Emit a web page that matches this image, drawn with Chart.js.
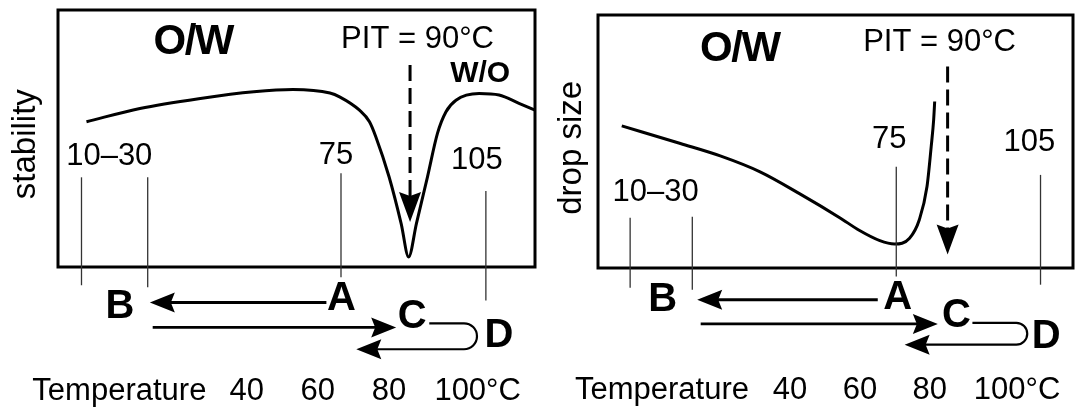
<!DOCTYPE html>
<html>
<head>
<meta charset="utf-8">
<script src="https://cdn.jsdelivr.net/npm/chart.js@4"></script>
<style>
    body { margin: 0; background: #fff; }
    #wrap { position: relative; width: 1075px; height: 410px; }
    .panel { position: absolute; top: 0; height: 410px; }
</style>
</head>
<body>
<div id="wrap">
    <div class="panel" style="left:0;width:540px"><canvas id="stability-chart"></canvas></div>
    <div class="panel" style="left:540px;width:535px"><canvas id="drop-chart"></canvas></div>
</div>
<script>
// --- DATA ---
// x = temperature on the diagram scale (°C), y = relative units (0 = bottom of box, 100 = top)
const axisTemps = [40, 60, 80, 100];
const axisTitle = 'Temperature';
const unitLabel = '°C';
const pitLabel = 'PIT = 90°C';
const markerLabels = ['10–30', '75', '105'];

const stabilityTemps  = [-5, 10, 27, 42, 53, 63.4, 66.1, 71.7, 74.5, 76.3, 80, 83.4, 85.5, 87.7, 90.8, 93.6, 96, 98.8, 105.3, 110.9, 116.5, 121];
const stabilityValues = [56.5, 61.7, 65.6, 68.2, 69.1, 67.7, 66.2, 61, 56.5, 50.6, 35.1, 16.9, 3.9, 17, 35.1, 52, 60.4, 64.9, 67.5, 66.9, 63.7, 61];

const dropTemps  = [-8.2, 8.6, 20, 31.4, 42.8, 54.2, 59.9, 65.7, 69.9, 74.2, 77, 79.2, 80.4, 81.1, 81.4];
const dropValues = [56.2, 49.2, 44.3, 38, 29.3, 19.9, 14.8, 10.8, 9.5, 11.8, 19.1, 32.2, 48, 58.5, 65.8];

// --- ANNOTATION ANCHORS (in the same x/y units as the data) ---
const stabilityNotes = {
    yTitle: { text: 'stability', t: -22, v: 47.8 },
    phases: [
        { text: 'O/W', t: 25, v: 87.2, size: 42 },
        { text: 'W/O', t: 105.6, v: 75.1, size: 30 }
    ],
    pit: { t: 85.9, from: 78.6, to: 17.5, labelT: 88, labelV: 88.7 },
    markers: [
        { label: 0, t: 1.4, v: 43.1, lines: [[-6.4, 34.9, -7.1], [12.2, 34.9, -7.9]] },
        { label: 1, t: 65.1, v: 43.5, lines: [[66.5, 36.5, -4]] },
        { label: 2, t: 104.7, v: 41.6, lines: [[107.2, 29.6, -13]] }
    ],
    steps: [['A', 66.6, -12.6], ['B', 4.4, -15.7], ['C', 86.5, -19.6], ['D', 110.9, -27]],
    cooling: { from: 62.4, to: 12.8, v: -13.8 },
    heating: { from: 13.6, to: 82, v: -23.5 },
    loop: { from: 91.3, right: 104.7, to: 70.8, top: -21.9, bottom: -32 },
    axisRow: { titleT: -20.2, v: -48.4 }
};

const dropNotes = {
    yTitle: { text: 'drop size', t: -22.5, v: 47.5 },
    phases: [
        { text: 'O/W', t: 25.6, v: 86.2, size: 42 }
    ],
    pit: { t: 85.1, from: 79.6, to: 5.3, labelT: 82.8, labelV: 89.3 },
    markers: [
        { label: 0, t: 1.5, v: 29.7, lines: [[-5.8, 19.9, -7.8], [12, 20.3, -8.6]] },
        { label: 1, t: 68.4, v: 51, lines: [[70.4, 40, -3.4]] },
        { label: 2, t: 108.5, v: 49.5, lines: [[111.7, 36.8, -6.6]] }
    ],
    steps: [['A', 70.8, -11.7], ['B', 3.5, -12.5], ['C', 87.6, -18.9], ['D', 113.3, -27.1]],
    cooling: { from: 65.1, to: 13.4, v: -12.5 },
    heating: { from: 14.4, to: 82.3, v: -22.1 },
    loop: { from: 92.2, right: 107.9, to: 72.8, top: -21.7, bottom: -30.3 },
    axisRow: { titleT: -21.6, v: -48.4 }
};

const FONT = '"Liberation Sans", Arial, Helvetica, sans-serif';

// --- DRAWING HELPERS ---
function drawText(ctx, str, x, y, size, bold, align, spacing) {
    ctx.font = (bold ? 'bold ' : '') + size + 'px ' + FONT;
    ctx.letterSpacing = spacing || '0px';
    ctx.textAlign = align || 'center';
    ctx.textBaseline = 'middle';
    ctx.fillText(str, x, y);
    ctx.letterSpacing = '0px';
}

// filled head with a small notch, (dx, dy) = direction of travel
function arrowHead(ctx, x, y, dx, dy, len, half) {
    ctx.beginPath();
    ctx.moveTo(x, y);
    ctx.lineTo(x - dx * len - dy * half, y - dy * len + dx * half);
    ctx.lineTo(x - dx * (len - 4), y - dy * (len - 4));
    ctx.lineTo(x - dx * len + dy * half, y - dy * len - dx * half);
    ctx.closePath();
    ctx.fill();
}

function hArrow(ctx, x0, x1, y, width) {
    const dir = x1 > x0 ? 1 : -1;
    ctx.lineWidth = width;
    ctx.beginPath();
    ctx.moveTo(x0, y);
    ctx.lineTo(x1 - dir * 18, y);
    ctx.stroke();
    arrowHead(ctx, x1, y, dir, 0, 25, 10);
}

const diagramPlugin = {
    id: 'diagram',
    afterDraw(chart, args, notes) {
        const { ctx, chartArea: area } = chart;
        const xs = t => chart.scales.x.getPixelForValue(t);
        const ys = v => chart.scales.y.getPixelForValue(v);
        ctx.save();
        ctx.fillStyle = '#000';
        ctx.strokeStyle = '#000';
        ctx.lineCap = 'butt';

        // frame
        ctx.lineWidth = 3;
        ctx.strokeRect(area.left, area.top, area.right - area.left, area.bottom - area.top);

        // y title
        ctx.save();
        ctx.translate(xs(notes.yTitle.t), ys(notes.yTitle.v));
        ctx.rotate(-Math.PI / 2);
        drawText(ctx, notes.yTitle.text, 0, 0, 33, false);
        ctx.restore();

        // phase labels
        notes.phases.forEach(p => drawText(ctx, p.text, xs(p.t), ys(p.v), p.size, true, 'center', p.size > 35 ? '-1.5px' : '0px'));

        // PIT label and dashed arrow
        const pit = notes.pit;
        drawText(ctx, pitLabel, xs(pit.labelT), ys(pit.labelV), 31, false);
        const px = xs(pit.t), tipY = ys(pit.to);
        ctx.lineWidth = 3;
        ctx.setLineDash([16, 7]);
        ctx.beginPath();
        ctx.moveTo(px, ys(pit.from));
        ctx.lineTo(px, tipY - 22);
        ctx.stroke();
        ctx.setLineDash([]);
        arrowHead(ctx, px, tipY, 0, 1, 30, 11);

        // temperature markers
        notes.markers.forEach(m => {
            drawText(ctx, markerLabels[m.label], xs(m.t), ys(m.v), 31, false);
            ctx.strokeStyle = '#333';
            ctx.lineWidth = 1.3;
            m.lines.forEach(([t, top, bottom]) => {
                ctx.beginPath();
                ctx.moveTo(xs(t), ys(top));
                ctx.lineTo(xs(t), ys(bottom));
                ctx.stroke();
            });
            ctx.strokeStyle = '#000';
        });

        // process steps
        notes.steps.forEach(([letter, t, v]) => drawText(ctx, letter, xs(t), ys(v), 40, true));
        hArrow(ctx, xs(notes.cooling.from), xs(notes.cooling.to), ys(notes.cooling.v), 3);
        hArrow(ctx, xs(notes.heating.from), xs(notes.heating.to), ys(notes.heating.v), 2.6);

        // C -> D -> back loop
        const lp = notes.loop;
        const yTop = ys(lp.top), yBot = ys(lp.bottom);
        const r = (yBot - yTop) / 2;
        const cx = xs(lp.right) - r;
        ctx.lineWidth = 2.2;
        ctx.beginPath();
        ctx.moveTo(xs(lp.from), yTop);
        ctx.lineTo(cx, yTop);
        ctx.arc(cx, yTop + r, r, -Math.PI / 2, Math.PI / 2);
        ctx.lineTo(xs(lp.to) + 18, yBot);
        ctx.stroke();
        arrowHead(ctx, xs(lp.to), yBot, -1, 0, 25, 10);

        // bottom temperature row
        const rowY = ys(notes.axisRow.v);
        drawText(ctx, axisTitle, xs(notes.axisRow.titleT), rowY, 31, false, 'left');
        axisTemps.forEach((t, i) => {
            const label = String(t);
            drawText(ctx, label, xs(t), rowY, 31, false);
            if (i === axisTemps.length - 1) {
                const w = ctx.measureText(label).width;
                drawText(ctx, unitLabel, xs(t) + w / 2, rowY, 31, false, 'left');
            }
        });

        ctx.restore();
    }
};

function buildChart(canvasId, temps, values, notes, xMin, padding) {
    return new Chart(document.getElementById(canvasId), {
        type: 'line',
        data: {
            datasets: [{
                data: temps.map((t, i) => ({ x: t, y: values[i] })),
                borderColor: '#000',
                borderWidth: 3,
                pointRadius: 0,
                fill: false,
                cubicInterpolationMode: 'monotone'
            }]
        },
        options: {
            responsive: true,
            maintainAspectRatio: false,
            animation: false,
            layout: { padding },
            scales: {
                x: { type: 'linear', min: xMin, max: 121, display: false },
                y: { min: 0, max: 100, display: false }
            },
            plugins: {
                legend: { display: false },
                tooltip: { enabled: false },
                diagram: notes
            }
        },
        plugins: [diagramPlugin]
    });
}

// --- START ---
buildChart('stability-chart', stabilityTemps, stabilityValues, stabilityNotes, -13,
    { left: 58, right: 5, top: 10, bottom: 143 });
buildChart('drop-chart', dropTemps, dropValues, dropNotes, -15,
    { left: 58, right: 2, top: 15, bottom: 142 });
</script>
</body>
</html>
